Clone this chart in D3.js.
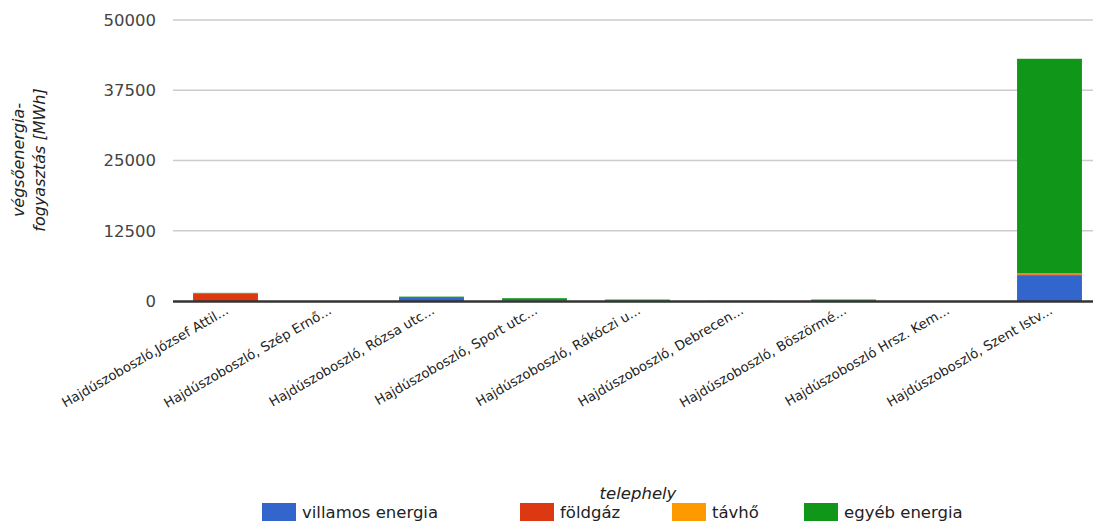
<!DOCTYPE html>
<html>
<head>
<meta charset="utf-8">
<script src="https://cdn.jsdelivr.net/npm/d3@7"></script>
<style>
  body { margin: 0; background: #fff; }
</style>
</head>
<body>
<svg id="chart" width="1093" height="522" font-family="DejaVu Sans"></svg>
<script>
const width = 1093;
const height = 522;

// sites (truncated labels as shown on the axis)
const sites = [
  "Hajdúszoboszló,József Attil...",
  "Hajdúszoboszló, Szép Ernő...",
  "Hajdúszoboszló, Rózsa utc...",
  "Hajdúszoboszló, Sport utc...",
  "Hajdúszoboszló, Rákóczi u...",
  "Hajdúszoboszló, Debrecen...",
  "Hajdúszoboszló, Böszörmé...",
  "Hajdúszoboszló Hrsz. Kem...",
  "Hajdúszoboszló, Szent Istv..."
];

const seriesNames = ["villamos energia", "földgáz", "távhő", "egyéb energia"];
const seriesColors = ["#3366cc", "#dc3912", "#ff9900", "#109618"];

// MWh per site
const villamos = [0, 0, 700, 80, 40, 10, 30, 0, 4600];
const foldgaz  = [1350, 0, 0, 0, 0, 0, 0, 0, 150];
const tavho    = [0, 0, 0, 0, 0, 0, 0, 0, 150];
const egyeb    = [100, 0, 80, 420, 220, 20, 230, 0, 38200];

const yTicks = [0, 12500, 25000, 37500, 50000];

const svg = d3.select("#chart");

const plotLeft = 174, plotRight = 1101, plotTop = 20, plotBottom = 301;

const x = d3.scaleBand()
  .domain(sites)
  .range([plotLeft, plotRight])
  .paddingInner(0.37)
  .paddingOuter(0.185);

const y = d3.scaleLinear()
  .domain([0, 50000])
  .range([plotBottom, plotTop]);

// gridlines
svg.append("g")
  .selectAll("line")
  .data(yTicks.filter(d => d > 0))
  .enter()
  .append("line")
  .attr("x1", 173)
  .attr("x2", width)
  .attr("y1", d => y(d))
  .attr("y2", d => y(d))
  .attr("stroke", "#cccccc")
  .attr("stroke-width", 1.5);

// y tick labels
svg.append("g")
  .selectAll("text")
  .data(yTicks)
  .enter()
  .append("text")
  .attr("x", 156)
  .attr("y", d => y(d))
  .attr("dy", "0.36em")
  .attr("text-anchor", "end")
  .attr("font-size", 16.5)
  .attr("fill", "#444")
  .text(d => d);

// stacked bars
const rows = sites.map((s, i) => ({
  site: s,
  "villamos energia": villamos[i],
  "földgáz": foldgaz[i],
  "távhő": tavho[i],
  "egyéb energia": egyeb[i]
}));
const stack = d3.stack().keys(seriesNames)(rows);

svg.append("g")
  .selectAll("g")
  .data(stack)
  .enter()
  .append("g")
  .attr("fill", (d, i) => seriesColors[i])
  .selectAll("rect")
  .data(d => d)
  .enter()
  .append("rect")
  .attr("x", d => x(d.data.site))
  .attr("width", x.bandwidth())
  .attr("y", d => y(d[1]))
  .attr("height", d => Math.max(0, y(d[0]) - y(d[1])));

// baseline
svg.append("line")
  .attr("x1", 173)
  .attr("x2", width)
  .attr("y1", plotBottom + 0.5)
  .attr("y2", plotBottom + 0.5)
  .attr("stroke", "#333")
  .attr("stroke-width", 2.5);

// x labels, rotated
svg.append("g")
  .selectAll("text")
  .data(sites)
  .enter()
  .append("text")
  .attr("transform", d => `translate(${x(d) + x.bandwidth() / 2 + 4},${plotBottom + 12}) rotate(-30)`)
  .attr("text-anchor", "end")
  .attr("font-size", 13.3)
  .attr("fill", "#222")
  .text(d => d);

// y axis title
const yTitle = svg.append("text")
  .attr("transform", "translate(24,160) rotate(-90)")
  .attr("text-anchor", "middle")
  .attr("font-size", 16)
  .attr("font-style", "italic")
  .attr("fill", "#222");
yTitle.append("tspan").attr("x", 0).attr("dy", 0).text("végsőenergia-");
yTitle.append("tspan").attr("x", 0).attr("dy", 21).text("fogyasztás [MWh]");

// x axis title
svg.append("text")
  .attr("x", 638)
  .attr("y", 499)
  .attr("text-anchor", "middle")
  .attr("font-size", 16.5)
  .attr("font-style", "italic")
  .attr("fill", "#222")
  .text("telephely");

// legend
const legendX = [262, 520, 672, 804];
const legend = svg.append("g")
  .selectAll("g")
  .data(seriesNames)
  .enter()
  .append("g")
  .attr("transform", (d, i) => `translate(${legendX[i]},503)`);

legend.append("rect")
  .attr("width", 34)
  .attr("height", 18)
  .attr("fill", (d, i) => seriesColors[i]);

legend.append("text")
  .attr("x", 40)
  .attr("y", 9)
  .attr("dy", "0.36em")
  .attr("font-size", 16.5)
  .attr("fill", "#222")
  .text(d => d);
</script>
</body>
</html>
